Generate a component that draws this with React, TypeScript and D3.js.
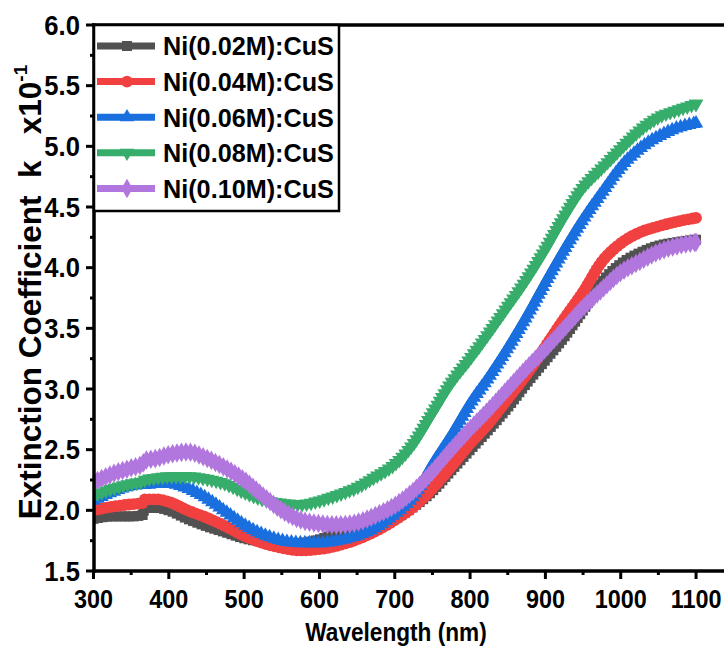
import React, { useEffect, useRef, useState } from "react";
import * as d3 from "d3";

// data (k x10^-1 vs wavelength in nm)
const wavelength = [300, 325, 350, 365, 368, 385, 400, 425, 450, 475, 500, 525, 550, 575, 600, 625, 650, 675, 700, 725, 750, 775, 800, 825, 850, 875, 900, 925, 950, 975, 1000, 1025, 1050, 1075, 1100];

const ni002 = [1.93, 1.95, 1.95, 1.96, 2.02, 2.02, 2.0, 1.93, 1.87, 1.82, 1.77, 1.74, 1.73, 1.73, 1.76, 1.81, 1.83, 1.87, 1.93, 2.03, 2.16, 2.33, 2.5, 2.67, 2.85, 3.05, 3.24, 3.43, 3.65, 3.88, 4.03, 4.12, 4.18, 4.21, 4.23];
const ni004 = [2.0, 2.03, 2.05, 2.06, 2.09, 2.09, 2.07, 2.0, 1.94, 1.87, 1.79, 1.73, 1.69, 1.67, 1.68, 1.71, 1.76, 1.83, 1.92, 2.03, 2.18, 2.36, 2.55, 2.72, 2.92, 3.12, 3.35, 3.58, 3.8, 4.05, 4.2, 4.29, 4.34, 4.38, 4.41];
const ni006 = [2.08, 2.15, 2.2, 2.21, 2.21, 2.22, 2.22, 2.18, 2.1, 1.99, 1.88, 1.8, 1.75, 1.73, 1.73, 1.75, 1.79, 1.86, 1.97, 2.12, 2.38, 2.62, 2.88, 3.1, 3.34, 3.6, 3.88, 4.15, 4.4, 4.62, 4.83, 4.98, 5.08, 5.15, 5.19];
const ni008 = [2.12, 2.18, 2.22, 2.24, 2.25, 2.27, 2.28, 2.28, 2.26, 2.22, 2.15, 2.09, 2.06, 2.05, 2.08, 2.13, 2.19, 2.28, 2.38, 2.55, 2.8, 3.05, 3.25, 3.46, 3.68, 3.9, 4.15, 4.42, 4.66, 4.82, 4.98, 5.13, 5.24, 5.3, 5.35];
const ni010 = [2.23, 2.3, 2.35, 2.38, 2.41, 2.43, 2.46, 2.48, 2.43, 2.35, 2.25, 2.12, 2.0, 1.92, 1.89, 1.88, 1.9, 1.96, 2.04, 2.16, 2.32, 2.5, 2.67, 2.83, 3.0, 3.17, 3.33, 3.5, 3.67, 3.82, 3.96, 4.05, 4.13, 4.18, 4.21];

const seriesNames = ["Ni(0.02M):CuS", "Ni(0.04M):CuS", "Ni(0.06M):CuS", "Ni(0.08M):CuS", "Ni(0.10M):CuS"];
const seriesValues = [ni002, ni004, ni006, ni008, ni010];
const seriesColors = ["#515151", "#F14040", "#1A6FDF", "#37AD6B", "#B177DE"];

const xTicks = [300, 400, 500, 600, 700, 800, 900, 1000, 1100];
const yTicks = [1.5, 2.0, 2.5, 3.0, 3.5, 4.0, 4.5, 5.0, 5.5, 6.0];

const W = 724;
const H = 646;
const FONT = "'Liberation Sans', Arial, sans-serif";
const NB = "\u00A0";

const x = d3.scaleLinear().domain([300, 1150]).range([93.5, 733.7]);
const y = d3.scaleLinear().domain([1.5, 6]).range([571, 25]);

const symbols = [
    { type: d3.symbolSquare, size: 100, rot: 0 },
    { type: d3.symbolCircle, size: 110, rot: 0 },
    { type: d3.symbolTriangle, size: 90, rot: 0 },
    { type: d3.symbolTriangle, size: 90, rot: 180 },
    { type: d3.symbolDiamond, size: 110, rot: 0 },
];
const symbolPath = symbols.map(s => d3.symbol(s.type, s.size)() as string);

const line = d3.line<number>()
    .x((d, i) => x(wavelength[i]))
    .y(d => y(d))
    .curve(d3.curveMonotoneX);

export default function App() {
    const pathRefs = useRef<(SVGPathElement | null)[]>([]);
    const [marks, setMarks] = useState<number[][][]>([]);

    useEffect(() => {
        // markers sit densely along each curve, as in the original plot
        const all = pathRefs.current.map(p => {
            if (!p) return [];
            const len = p.getTotalLength();
            const pts: number[][] = [];
            for (let s = 0; s <= len; s += 4.5) {
                const q = p.getPointAtLength(s);
                pts.push([q.x, q.y]);
            }
            const end = p.getPointAtLength(len);
            pts.push([end.x, end.y]);
            return pts;
        });
        setMarks(all);
    }, []);

    const xMinor = d3.range(350, 1151, 100);
    const yMinor = d3.range(1.75, 6, 0.5);

    return (
        <svg width={W} height={H} style={{ position: "absolute", left: 0, top: 0, background: "#fff" }}
             fontFamily={FONT} fontWeight="bold">
            <defs>
                <clipPath id="plot">
                    <rect x={94} y={25} width={W - 94} height={546} />
                </clipPath>
            </defs>

            {/* series */}
            <g clipPath="url(#plot)">
                {seriesValues.map((vals, si) => (
                    <g key={si} fill={seriesColors[si]}>
                        <path ref={el => { pathRefs.current[si] = el; }}
                              d={line(vals) as string} fill="none"
                              stroke={seriesColors[si]} strokeWidth={7} strokeLinejoin="round" />
                        {(marks[si] || []).map((p, j) => (
                            <path key={j} d={symbolPath[si]}
                                  transform={`translate(${p[0]},${p[1]}) rotate(${symbols[si].rot})`} />
                        ))}
                    </g>
                ))}
            </g>

            {/* frame */}
            <g stroke="#000" strokeWidth={3.5} fill="none">
                <line x1={92} x2={W} y1={25} y2={25} />
                <line x1={92} x2={W} y1={571} y2={571} />
                <line x1={94} x2={94} y1={23.5} y2={573} />
            </g>

            {/* y axis ticks */}
            <g stroke="#000" strokeWidth={3}>
                {yTicks.map(t => <line key={t} x1={86} x2={94} y1={y(t)} y2={y(t)} />)}
                {yMinor.map(t => <line key={t} x1={90} x2={94} y1={y(t)} y2={y(t)} />)}
            </g>
            <g fontSize={27} textAnchor="end">
                {yTicks.map(t => (
                    <text key={t} transform={`translate(80,${y(t)}) scale(0.95,1)`} dy="0.36em">{t.toFixed(1)}</text>
                ))}
            </g>

            {/* x axis ticks */}
            <g stroke="#000" strokeWidth={3}>
                {xTicks.map(t => <line key={t} x1={x(t)} x2={x(t)} y1={571} y2={579} />)}
                {xMinor.map(t => <line key={t} x1={x(t)} x2={x(t)} y1={571} y2={575} />)}
            </g>
            <g fontSize={26} textAnchor="middle">
                {xTicks.map(t => (
                    <text key={t} transform={`translate(${x(t)},608) scale(0.9,1)`}>{t}</text>
                ))}
            </g>

            {/* axis titles */}
            <text transform="translate(396,641) scale(0.87,1)" fontSize={26} textAnchor="middle">Wavelength (nm)</text>
            <text transform="translate(41,292) rotate(-90)" fontSize={31.5} textAnchor="middle">
                {`Extinction Coefficient${NB}${NB}k${NB}${NB}${NB}x10`}<tspan fontSize={19} dy={-14}>-1</tspan>
            </text>

            {/* legend */}
            <rect x={94} y={25} width={245} height={186} fill="#fff" stroke="#000" strokeWidth={2.5} />
            {seriesNames.map((name, i) => {
                const ly = 46 + i * 35.6;
                return (
                    <g key={name}>
                        <line x1={97} x2={155} y1={ly} y2={ly} stroke={seriesColors[i]} strokeWidth={7} />
                        <path d={symbolPath[i]} fill={seriesColors[i]}
                              transform={`translate(127,${ly}) rotate(${symbols[i].rot})`} />
                        <text transform={`translate(163,${ly}) scale(0.97,1)`} dy="0.36em" fontSize={26}>{name}</text>
                    </g>
                );
            })}
        </svg>
    );
}
